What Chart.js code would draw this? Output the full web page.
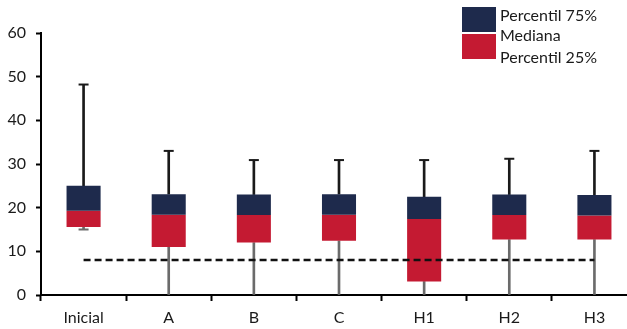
<!DOCTYPE html>
<html>
<head>
<meta charset="utf-8">
<script src="https://cdn.jsdelivr.net/npm/chart.js@4"></script>
<style>
    html, body { margin: 0; padding: 0; background: #fff; }
    .wrap { position: relative; width: 627px; height: 329px; overflow: hidden; }
    canvas { position: absolute; left: 0; top: 0; }
    .legend { position: absolute; left: 462px; top: 6px; font: 16px Lato, sans-serif; color: #1a1a1a; }
    .legend .sw { position: absolute; left: 0; width: 34px; }
    .legend .txt { position: absolute; left: 38px; white-space: nowrap; line-height: 21px; }
</style>
</head>
<body>
<div class="wrap">
    <canvas id="chart" width="644" height="329"></canvas>
    <div class="legend">
        <div class="sw" style="top: 1px; height: 25px; background: #1e2a4c;"></div>
        <div class="sw" style="top: 28px; height: 25px; background: #c41a32;"></div>
        <div class="txt" style="top: -2px;">Percentil 75%</div>
        <div class="txt" style="top: 18px;">Mediana</div>
        <div class="txt" style="top: 40px;">Percentil 25%</div>
    </div>
</div>
<script>
const categories = ['Inicial', 'A', 'B', 'C', 'H1', 'H2', 'H3']

const whiskerMax = [48.2, 33.0, 30.9, 30.9, 30.9, 31.2, 33.0]
const percentile75 = [25.0, 23.1, 23.0, 23.1, 22.5, 23.0, 22.9]
const median = [19.3, 18.4, 18.3, 18.4, 17.4, 18.3, 18.2]
const percentile25 = [15.6, 11.0, 12.0, 12.4, 3.1, 12.7, 12.7]
const whiskerMin = [15.0, 0, 0, 0, 0, 0, 0]

const referenceLine = [8, 8, 8, 8, 8, 8, 8]

const navy = '#1e2a4c'
const red = '#c41a32'

const pairs = (low, high) => categories.map((c, i) => [low[i], high[i]])

const ctx = document.querySelector('#chart').getContext('2d')

const chart = new Chart(ctx, {
    type: 'bar',
    data: {
        labels: categories,
        datasets: [
            {
                label: 'Percentil 75%',
                data: pairs(median, percentile75),
                backgroundColor: navy,
                barPercentage: 0.4,
                categoryPercentage: 1,
                order: 1
            },
            {
                label: 'Percentil 25%',
                data: pairs(percentile25, median),
                backgroundColor: red,
                barPercentage: 0.4,
                categoryPercentage: 1,
                order: 1
            },
            {
                label: 'max',
                data: pairs(percentile75, whiskerMax),
                backgroundColor: '#1a1a1a',
                barThickness: 2,
                order: 3
            },
            {
                label: 'min',
                data: pairs(whiskerMin, percentile25),
                backgroundColor: '#6b6b6b',
                barThickness: 2,
                order: 3
            },
            {
                type: 'line',
                label: 'max cap',
                data: whiskerMax,
                showLine: false,
                pointStyle: 'line',
                pointRadius: 5,
                pointBorderWidth: 2,
                pointBorderColor: '#1a1a1a',
                order: 2
            },
            {
                type: 'line',
                label: 'min cap',
                // the cap at zero sits under the axis, only draw the raised ones
                data: whiskerMin.map(v => v > 0 ? v : null),
                showLine: false,
                pointStyle: 'line',
                pointRadius: 5,
                pointBorderWidth: 2,
                pointBorderColor: '#6b6b6b',
                order: 2
            },
            {
                type: 'line',
                label: 'ref',
                data: referenceLine,
                borderColor: '#111',
                borderWidth: 2.5,
                borderDash: [7, 4],
                pointRadius: 0,
                order: 0
            }
        ]
    },
    options: {
        responsive: false,
        animation: false,
        layout: { padding: { top: 33, right: 2, left: 0, bottom: 0 } },
        plugins: {
            legend: { display: false },
            tooltip: { enabled: false }
        },
        scales: {
            x: {
                stacked: true,
                afterFit: scale => { scale.height = 34 },
                grid: {
                    offset: true,
                    drawOnChartArea: false,
                    tickLength: 6,
                    tickColor: '#000',
                    tickWidth: 2
                },
                border: { color: '#000', width: 2 },
                ticks: {
                    padding: 7,
                    color: '#1a1a1a',
                    font: { family: 'Lato', size: 16 }
                }
            },
            y: {
                stacked: false,
                min: 0,
                max: 60,
                afterFit: scale => { scale.width = 41 },
                grid: {
                    drawOnChartArea: false,
                    tickLength: 5,
                    tickColor: '#000',
                    tickWidth: 2
                },
                border: { color: '#000', width: 2 },
                ticks: {
                    stepSize: 10,
                    padding: 10,
                    color: '#1a1a1a',
                    font: { family: 'Lato', size: 16 }
                }
            }
        }
    }
})
</script>
</body>
</html>
